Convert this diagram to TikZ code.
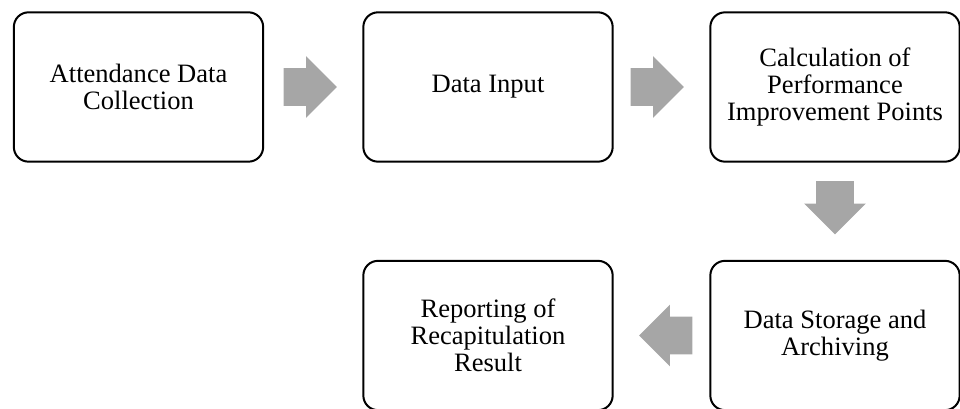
\documentclass[tikz,border=0pt]{standalone}
\usepackage{fontspec}
\setmainfont{Liberation Serif}
\usepackage{tikz}
\usetikzlibrary{shapes.arrows, calc}

\begin{document}
\begin{tikzpicture}[
  x=0.75pt, y=-0.75pt,
  every node/.style={font=\fontsize{19.9}{20.3}\selectfont},
  stage/.style={draw, line width=1.5pt, rounded corners=11pt,
                minimum width=187pt, minimum height=112pt,
                align=center, inner sep=2pt},
  blk/.style={single arrow, fill=black!35, draw=none,
              inner xsep=0pt, inner ysep=13.9pt,
              minimum height=40pt, anchor=tip,
              single arrow head extend=9pt, single arrow head indent=0pt}
]
\useasboundingbox (0,0) rectangle (960,409);

%% process boxes
\node[stage] (coll) at (138.5,87)  {Attendance Data\\Collection};
\node[stage] (inp)  at (488,87)    {Data Input};
\node[stage] (calc) at (835,87)    {Calculation of\\Performance\\Improvement Points};
\node[stage] (stor) at (835,335.5) {Data Storage and\\Archiving};
\node[stage] (rep)  at (488,335.5) {Reporting of\\Recapitulation\\Result};

%% block arrows (tip 25px short of the next box)
\node[blk] (a1) at ($(inp.west)!18.75pt!(coll.east)$)   {};
\node[blk] (a2) at ($(calc.west)!18.75pt!(inp.east)$)   {};
\node[blk, rotate=-90] (a3) at ($(stor.north)!18.75pt!(calc.south)$) {};
\node[blk, rotate=180] (a4) at ($(rep.east)!18.75pt!(stor.west)$)    {};
\end{tikzpicture}
\end{document}
